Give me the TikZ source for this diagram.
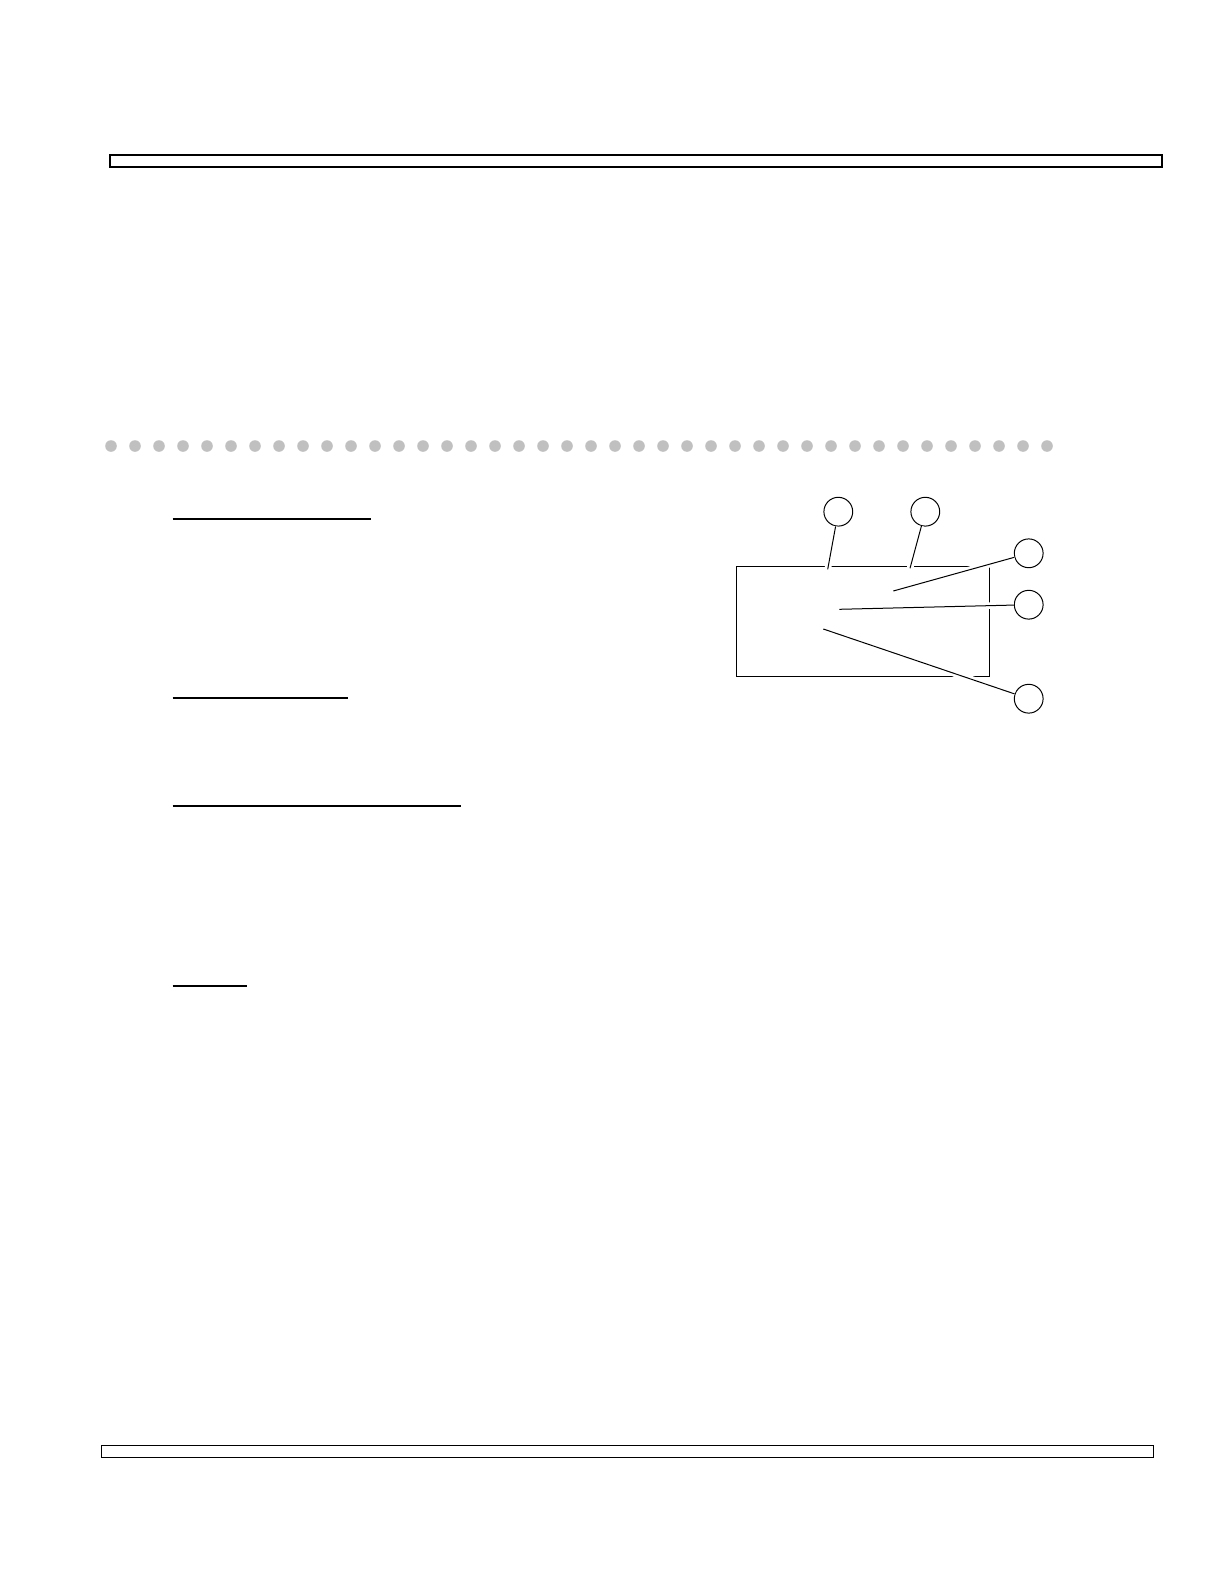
\documentclass[tikz,border=0pt]{standalone}
\usepackage{xcolor}
\usepackage{tikz}
\usetikzlibrary{positioning}
\definecolor{dotgray}{RGB}{192,192,192}
\tikzset{
	callout/.style={circle,draw,line width=0.5pt,minimum size=14.4pt,inner sep=0pt},
	leader/.style={line width=0.5pt,preaction={draw=white,line width=3.3pt}},
	bar/.style={draw,line width=1pt},
	footbar/.style={draw,line width=0.75pt},
	heading/.style={line width=1pt},
	subheading/.style={line width=0.7pt}
}
\begin{document}
\begin{tikzpicture}[x=0.5pt,y=-0.5pt]
	\useasboundingbox (0,0) rectangle (1224,1584);
	\draw[bar] (110.3,154.7) rectangle (1161.7,166.7);
	\foreach \i in {0,...,39}
		\fill[dotgray] (111+24*\i,446) circle (5.8);
	\draw[heading] (172.7,518.7) -- (370.7,518.7);
	\draw[subheading] (172.7,698) -- (348,698);
	\draw[subheading] (172.7,806) -- (460.7,806);
	\draw[subheading] (172.7,986) -- (246.7,986);
	\node[draw,line width=0.75pt,minimum width=126.5pt,minimum height=55.2pt,inner sep=0pt] (frame) at (862.8,621.5) {};
	\node[callout] (c1) at (838.3,511.7) {};
	\node[callout] (c2) at (925.3,511.7) {};
	\node[callout] (c3) at (1028.7,553.3) {};
	\node[callout] (c4) at (1028.7,604.7) {};
	\node[callout] (c5) at (1028.7,698.7) {};
	\coordinate (p1) at (827.7,569.3);
	\coordinate (p2) at (910,568.3);
	\coordinate (p3) at (893.3,591);
	\coordinate (p4) at (839.3,609.3);
	\coordinate (p5) at (823.3,629);
	\draw[leader] (c1) -- (p1);
	\draw[leader] (c2) -- (p2);
	\draw[leader] (c3) -- (p3);
	\draw[leader] (c4) -- (p4);
	\draw[leader] (c5) -- (p5);
	\draw[footbar] (101.7,1445.3) rectangle (1153.3,1457.3);
\end{tikzpicture}
\end{document}
